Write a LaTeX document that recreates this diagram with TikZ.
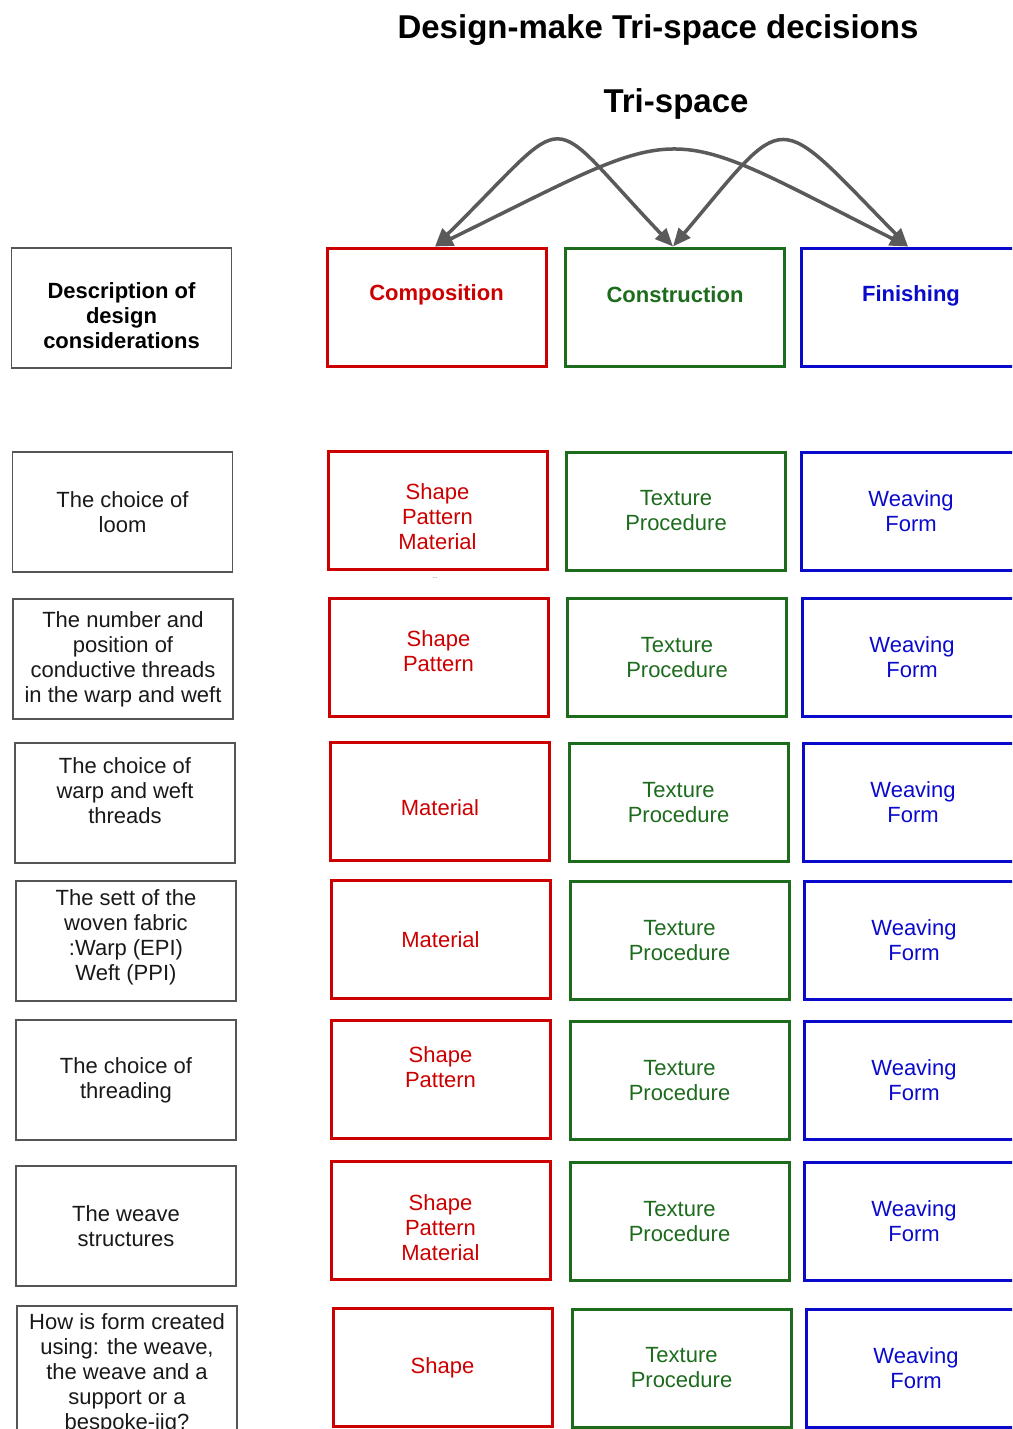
\documentclass[tikz,border=0pt]{standalone}
\usepackage{fontspec}
\setmainfont{Liberation Sans}
\usetikzlibrary{arrows.meta}
\definecolor{cred}{HTML}{CC0000}
\definecolor{cgreen}{HTML}{1D6B1D}
\definecolor{cblue}{HTML}{0A0ACC}
\definecolor{cgray}{HTML}{555555}
\definecolor{carrow}{HTML}{5A5A5A}
\begin{document}
\begin{tikzpicture}[x=1pt,y=-1pt,
 txt/.style={font=\fontsize{22}{25}\selectfont, align=center},
 descbox/.style={txt, draw=cgray, line width=1.5pt, minimum width=220pt, minimum height=120pt, inner sep=0pt, text=black!90},
 cbox/.style={txt, line width=3pt, minimum width=219pt, minimum height=118pt, inner sep=0pt},
 compbox/.style={cbox, draw=cred, text=cred},
 consbox/.style={cbox, draw=cgreen, text=cgreen},
 finbox/.style={cbox, draw=cblue, text=cblue},
 hdr/.style={font=\fontsize{22}{25}\selectfont\bfseries},
 ttl/.style={font=\fontsize{33}{36}\selectfont\bfseries},
 arr/.style={draw=carrow, line width=3.5pt, >={Triangle[length=18pt,width=15pt]}, <->}
]
\useasboundingbox (0,0) rectangle (1012,1429);
\clip (0,0) rectangle (1012,1429);

\node[ttl] (title) at (658,30) {Design-make Tri-space decisions};
\node[ttl] (tri) at (676,104) {Tri-space};

% header row
\node[descbox] (d0) at (121.5,308) {};
\node[txt, font=\fontsize{22}{25}\selectfont\bfseries] (d0t) at (121.5,316) {Description of\\design\\considerations};
\node[compbox] (c0) at (436.5,307) {};
\node[hdr, text=cred] (c0t) at (436.5,295) {Composition};
\node[consbox] (k0) at (675,307) {};
\node[hdr, text=cgreen] (k0t) at (675,295) {Construction};
\node[finbox] (f0) at (911,307) {};
\node[hdr, text=cblue] (f0t) at (911,296) {Finishing};

% arrows
\draw[arr] ([xshift=-1.5pt]c0.north) .. controls (577,107) and (540,107) .. ([xshift=-2pt]k0.north);
\draw[arr] ([xshift=-2pt]k0.north) .. controls (790,108) and (772,108) .. ([xshift=-3pt]f0.north);
\draw[arr] ([xshift=-1.5pt]c0.north) .. controls (695,119) and (655,119) .. ([xshift=-3pt]f0.north);

% row 1
\node[descbox] (d1) at (122.5,512) {The choice of\\loom};
\node[compbox] (c1) at (437.5,510) {};
\node[txt, text=cred] (c1t) at (437.5,517) {Shape\\Pattern\\Material};
\node[consbox] (k1) at (676,511) {Texture\\Procedure};
\node[finbox] (f1) at (911,511) {Weaving\\Form};
\node[font=\fontsize{6}{6}\selectfont, text=cgray] (dots) at (435,578) {...};

% row 2
\node[descbox] (d2) at (123,659) {The number and\\position of\\conductive threads\\in the warp and weft};
\node[compbox] (c2) at (438.5,657) {};
\node[txt, text=cred] (c2t) at (438.5,651.5) {Shape\\Pattern};
\node[consbox] (k2) at (677,657.5) {Texture\\Procedure};
\node[finbox] (f2) at (912,657.5) {Weaving\\Form};

% row 3
\node[descbox] (d3) at (125,803) {The choice of\\warp and weft\\threads\\\mbox{}};
\node[compbox] (c3) at (440,801) {};
\node[txt, text=cred] (c3t) at (440,808) {Material};
\node[consbox] (k3) at (678.5,802.5) {Texture\\Procedure};
\node[finbox] (f3) at (913,802.5) {Weaving\\Form};

% row 4
\node[descbox] (d4) at (126,941) {};
\node[txt, text=black!90] (d4t) at (126,937) {The sett of the\\woven fabric\\:Warp (EPI)\\Weft (PPI)};
\node[compbox] (c4) at (440.5,939.5) {Material};
\node[consbox] (k4) at (679.5,940.5) {Texture\\Procedure};
\node[finbox] (f4) at (914,940.5) {Weaving\\Form};

% row 5
\node[descbox] (d5) at (126,1080) {The choice of\\threading};
\node[compbox] (c5) at (440.5,1079.5) {Shape\\Pattern\\\mbox{}};
\node[consbox] (k5) at (679.5,1080.5) {Texture\\Procedure};
\node[finbox] (f5) at (914,1080.5) {Weaving\\Form};

% row 6
\node[descbox] (d6) at (126,1226) {The weave\\structures};
\node[compbox] (c6) at (440.5,1220) {};
\node[txt, text=cred] (c6t) at (440.5,1228) {Shape\\Pattern\\Material};
\node[consbox] (k6) at (679.5,1221.5) {Texture\\Procedure};
\node[finbox] (f6) at (914,1221.5) {Weaving\\Form};

% row 7
\node[descbox, minimum height=136pt] (d7) at (127,1374) {How is form created\\using: the weave,\\the weave and a\\support or a\\bespoke-jig?};
\node[compbox] (c7) at (442.5,1367.5) {Shape};
\node[consbox] (k7) at (681.5,1368) {Texture\\Procedure};
\node[finbox] (f7) at (916,1368) {Weaving\\Form};
\end{tikzpicture}
\end{document}
